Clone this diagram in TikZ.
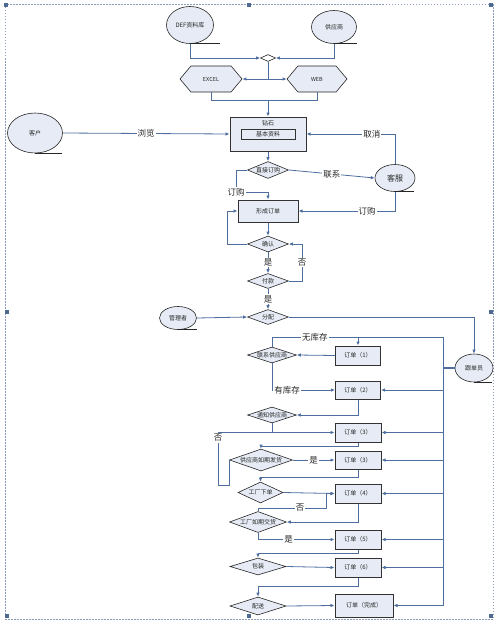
\documentclass[tikz,border=0pt]{standalone}
\usepackage{fontspec}
\setmainfont{Noto Sans CJK SC}
\usetikzlibrary{shapes.geometric,shapes.symbols,arrows.meta}
\definecolor{nfill}{HTML}{E6EBF5}
\definecolor{lc}{HTML}{4D6E9F}
\definecolor{frm}{HTML}{8A9CB8}
\definecolor{hnd}{HTML}{4F6A90}
\newcommand{\zb}[1]{\makebox[0pt]{#1}}
\begin{document}
\begin{tikzpicture}[x=1pt,y=-1pt,
  every node/.style={font=\fontsize{6}{7}\selectfont, inner sep=0pt, text=black!85},
  conn/.style={draw=lc, line width=0.8pt, -{Latex[length=4pt,width=3.5pt]}},
  ln/.style={draw=lc, line width=0.8pt},
  box/.style={rectangle, draw=black!80, line width=1pt, fill=nfill},
  dia/.style={diamond, draw=black!85, line width=0.6pt, fill=nfill},
  ell/.style={ellipse, draw=black!85, line width=0.6pt, fill=nfill},
  hexa/.style={signal, signal to=west and east, signal pointer angle=100, draw=black!85, fill=nfill, line width=0.6pt, font=\fontsize{5.5}{6}\selectfont},
  tail/.style={draw=black!85, line width=0.8pt},
  lbl/.style={font=\fontsize{8.5}{9}\selectfont, fill=white, inner sep=1pt},
  handle/.style={fill=hnd},
]
\useasboundingbox (0,0) rectangle (500,626);
% frame
\draw[frm, line width=0.6pt, dash pattern=on 1.5pt off 1.5pt] (5,4) rectangle (493,619);
\foreach \hx/\hy in {6/5,249/5,491/5,7/312,491/312,7/616,249/616,491/616}
  \fill[handle] (\hx-2.2,\hy-2.2) rectangle (\hx+2.2,\hy+2.2);

% top sources
\node[ell, minimum width=47, minimum height=37] (def) at (190,25) {DEF资料库};
\draw[tail] (def.south) -- ++(30,0);
\node[ell, minimum width=45, minimum height=33] (sup) at (334,27) {供应商};
\draw[tail] (sup.south) -- ++(23,0);
\node[diamond, draw=black!85, fill=white, line width=0.6pt, minimum width=15, minimum height=7] (jn) at (268,58) {};
\node[hexa, minimum width=62, minimum height=26] (excel) at (211,79) {EXCEL};
\node[hexa, minimum width=60, minimum height=26] (web) at (317,79) {WEB};

% main box
\node[box, minimum width=76, minimum height=34] (zs) at (268,134) {};
\node (zsl) at (268,123) {钻石};
\node[box, line width=0.8pt, minimum width=54, minimum height=10] (jb) at (268,134) {基本资料};

\node[ell, minimum width=55, minimum height=40] (kehu) at (35,133) {客户};
\draw[tail] (kehu.south) -- ++(27,0);
\node[dia, minimum width=41, minimum height=17] (zj) at (268,170) {\zb{直接订购}};
\node[ell, minimum width=40, minimum height=27, font=\fontsize{8}{9}\selectfont] (kefu) at (395,178) {客服};
\draw[tail] (kefu.south) -- ++(19,0);
\node[box, minimum width=60, minimum height=22] (xc) at (268,211) {形成订单};
\node[dia, minimum width=41, minimum height=16] (qr) at (268,244) {\zb{确认}};
\node[dia, minimum width=41, minimum height=15] (fk) at (268,281) {\zb{付款}};
\node[dia, minimum width=41, minimum height=15] (fp) at (268,317) {\zb{分配}};
\node[ell, minimum width=37, minimum height=23] (gl) at (178,318) {管理者};
\draw[tail] (gl.south) -- ++(19,0);
\node[ell, minimum width=38, minimum height=28] (gd) at (474,368) {跟单员};
\draw[tail] (gd.south) -- ++(18,0);

% lower column
\node[dia, minimum width=49, minimum height=16] (lx) at (272,355) {\zb{联系供应商}};
\node[box, minimum width=45, minimum height=19] (o1) at (358,355.5) {订单（1）};
\node[box, minimum width=45, minimum height=18] (o2) at (358,390) {订单（2）};
\node[dia, minimum width=49, minimum height=16] (tz) at (272,415) {\zb{通知供应商}};
\node[box, minimum width=46, minimum height=19] (o3) at (358,432.5) {订单（3）};
\node[dia, minimum width=63, minimum height=22] (gy) at (261,460) {\zb{供应商如期发货}};
\node[box, minimum width=46, minimum height=18] (o3b) at (358,460) {订单（3）};
\node[dia, minimum width=45, minimum height=21] (gc) at (260.5,492.5) {\zb{工厂下单}};
\node[box, minimum width=46, minimum height=19] (o4) at (358,493.5) {订单（4）};
\node[dia, minimum width=57, minimum height=21] (gq) at (258,522) {\zb{工厂如期交货}};
\node[box, minimum width=46, minimum height=19] (o5) at (358,539.5) {订单（5）};
\node[dia, minimum width=56, minimum height=17] (bz) at (258,566.5) {\zb{包装}};
\node[box, minimum width=46, minimum height=19] (o6) at (358,567.5) {订单（6）};
\node[dia, minimum width=56, minimum height=18] (ps) at (258,606) {\zb{配送}};
\node[box, minimum width=58, minimum height=23] (of) at (364,605.5) {订单（完成）};

\coordinate (tt) at (443,337);
\coordinate (tb) at (443,605.5);

% connectors top
\draw[conn] (def.south) |- (jn.west);
\draw[conn] (sup.south) |- (jn.east);
\coordinate (j2) at (268,79);
\draw[ln] (jn.south) -- (j2);
\draw[conn] (j2) -- (excel.east);
\draw[conn] (j2) -- (web.west);
\coordinate (j3) at (268,100);
\draw[ln] (excel.south) |- (j3);
\draw[ln] (web.south) |- (j3);
\draw[conn] (j3) -- (zs.north);
\draw[conn] (kehu.east) -- node[lbl]{浏览} (zs.west);
\draw[conn] (kefu.north) |- node[lbl,pos=0.63]{取消} (zs.east);
\draw[conn] (zs.south) -- (zj.north);
\draw[conn] (zj.east) -- node[lbl]{联系} (kefu.west);
\coordinate (c1) at (236,192);
\draw[ln] (zj.west) -| (c1) -- (c1 -| xc.north);
\draw[conn] (c1 -| xc.north) -- (xc.north);
\node[lbl] at (c1) {订购};
\draw[conn] (kefu.south) |- node[lbl,pos=0.645]{订购} (xc.east);
\draw[conn] (xc.south) -- (qr.north);
\coordinate (c2) at (227,211);
\draw[conn] (qr.west) -| (c2) -- (xc.west);
\draw[conn] (qr.south) -- node[lbl]{是} (fk.north);
\coordinate (c3) at (302,244);
\draw[conn] (fk.east) -| node[lbl,pos=0.75]{否} (c3) -- (qr.east);
\draw[conn] (fk.south) -- node[lbl]{是} (fp.north);
\draw[conn] (gl.east) -- (fp.west);
\draw[conn] (fp.east) -| (gd.north);

% trunk
\draw[ln] (lx.north) |- node[lbl,pos=0.625]{无库存} (tt);
\draw[ln] (tt) -- (tb);
\draw[conn] (o1.north |- tt) -- (o1.north);
\draw[ln, line width=1.3pt] (gd.west) -- (gd.west -| tt);
\foreach \o in {o2,o3,o3b,o4,o5,o6,of}
  \draw[conn] (\o.east -| tt) -- (\o.east);

% lower connectors
\draw[conn] (o1.west) -- (lx.east);
\draw[conn] (lx.south) |- node[lbl,pos=0.62]{有库存} (o2.west);
\draw[conn] (o2.south) |- (tz.east);
\draw[conn] (tz.south) |- (o3.west);
\coordinate (c4) at (218,485);
\draw[ln] (gy.west) |- (c4) -- (c4 |- o3.west) -- (o3.west -| tz.south);
\node[lbl] at (218,438) {否};
\draw[conn] (o3.south) -- ++(0,3.5) -| (gy.north);
\draw[conn] (gy.east) -- node[lbl]{是} (o3b.west);
\draw[conn] (o3b.south) -- ++(0,8) -| (gc.north);
\draw[conn] (gc.east) -- (o4.west);
\draw[conn] (o4.south) |- (gq.east);
\coordinate (c6) at (326,508);
\draw[conn] (gq.north) |- node[lbl,pos=0.81]{否} (c6) |- (o4.west);
\draw[conn] (gq.south) |- node[lbl,pos=0.70]{是} (o5.west);
\draw[conn] (o5.south) -- ++(0,4) -| (bz.north);
\draw[conn] (bz.east) -- (o6.west);
\draw[conn] (o6.south) -- ++(0,9) -| (ps.north);
\draw[conn] (ps.east) -- (of.west);
\end{tikzpicture}
\end{document}
